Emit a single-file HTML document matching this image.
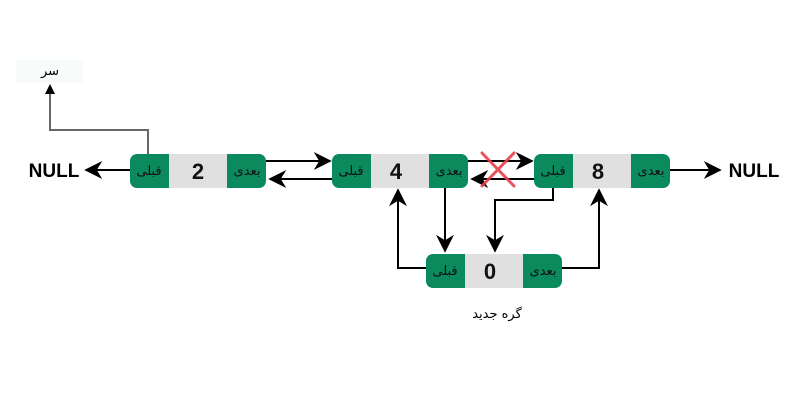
<!DOCTYPE html>
<html><head><meta charset="utf-8"><style>
body{margin:0;background:#fff;width:801px;height:401px;overflow:hidden}
</style></head><body>
<svg width="801" height="401" viewBox="0 0 801 401" xmlns="http://www.w3.org/2000/svg" font-family="Liberation Sans, DejaVu Sans, sans-serif">
<defs>
<marker id="b" viewBox="0 0 10 10" refX="9" refY="5" markerWidth="18" markerHeight="18" orient="auto" markerUnits="userSpaceOnUse">
<path d="M0,0 L10,5 L0,10 L3,5 Z" fill="#000"/></marker>
</defs>
<rect x="16" y="60" width="67" height="23" fill="#f7fbf9"/>
<text x="50" y="75" font-size="13" text-anchor="middle" font-family="DejaVu Sans, sans-serif">سر</text>
<polyline points="148,154 148,130 50,130 50,88" fill="none" stroke="#666" stroke-width="2"/>
<path d="M45,94 L50,84 L55,94 Z" fill="#000"/>
<g font-family="DejaVu Sans, sans-serif" font-size="13" fill="#111">
<g transform="translate(130,154)">
<rect width="136" height="34" rx="7" fill="#0b8a5e"/><rect x="39" width="58" height="34" fill="#e0e0e0"/>
<text x="19" y="21" text-anchor="middle">قبلی</text><text x="117" y="21" text-anchor="middle">بعدی</text>
<text x="68" y="25" text-anchor="middle" font-size="22" font-weight="bold" font-family="Liberation Sans, sans-serif">2</text></g>
<g transform="translate(332,154)">
<rect width="136" height="34" rx="7" fill="#0b8a5e"/><rect x="39" width="58" height="34" fill="#e0e0e0"/>
<text x="19" y="21" text-anchor="middle">قبلی</text><text x="117" y="21" text-anchor="middle">بعدی</text>
<text x="64" y="25" text-anchor="middle" font-size="22" font-weight="bold" font-family="Liberation Sans, sans-serif">4</text></g>
<g transform="translate(534,154)">
<rect width="136" height="34" rx="7" fill="#0b8a5e"/><rect x="39" width="58" height="34" fill="#e0e0e0"/>
<text x="19" y="21" text-anchor="middle">قبلی</text><text x="117" y="21" text-anchor="middle">بعدی</text>
<text x="64" y="25" text-anchor="middle" font-size="22" font-weight="bold" font-family="Liberation Sans, sans-serif">8</text></g>
<g transform="translate(426,254)">
<rect width="136" height="34" rx="7" fill="#0b8a5e"/><rect x="39" width="58" height="34" fill="#e0e0e0"/>
<text x="19" y="21" text-anchor="middle">قبلی</text><text x="117" y="21" text-anchor="middle">بعدی</text>
<text x="64" y="25" text-anchor="middle" font-size="22" font-weight="bold" font-family="Liberation Sans, sans-serif">0</text></g>
</g>
<g stroke="#000" stroke-width="2" fill="none">
<line x1="130" y1="170" x2="86" y2="170" marker-end="url(#b)"/>
<line x1="670" y1="170" x2="720" y2="170" marker-end="url(#b)"/>
<line x1="266" y1="161" x2="330" y2="161" marker-end="url(#b)"/>
<line x1="332" y1="179" x2="270" y2="179" marker-end="url(#b)"/>
<line x1="468" y1="161" x2="532" y2="161" marker-end="url(#b)"/>
<line x1="534" y1="179" x2="472" y2="179" marker-end="url(#b)"/>
<line x1="445" y1="188" x2="445" y2="251" marker-end="url(#b)"/>
<polyline points="553,188 553,200 495,200 495,251" marker-end="url(#b)"/>
<polyline points="426,268 398,268 398,190" marker-end="url(#b)"/>
<polyline points="562,268 599,268 599,190" marker-end="url(#b)"/>
</g>
<g stroke="#e8404a" stroke-width="3" stroke-linecap="round" opacity="0.9">
<line x1="482" y1="153" x2="514" y2="186"/><line x1="514" y1="153" x2="482" y2="186"/>
</g>
<text x="54" y="177" font-size="19" font-weight="600" text-anchor="middle">NULL</text>
<text x="754" y="177" font-size="19" font-weight="600" text-anchor="middle">NULL</text>
<text x="497" y="318" font-size="13" text-anchor="middle" font-family="DejaVu Sans, sans-serif">گره جدید</text>
</svg>
</body></html>
